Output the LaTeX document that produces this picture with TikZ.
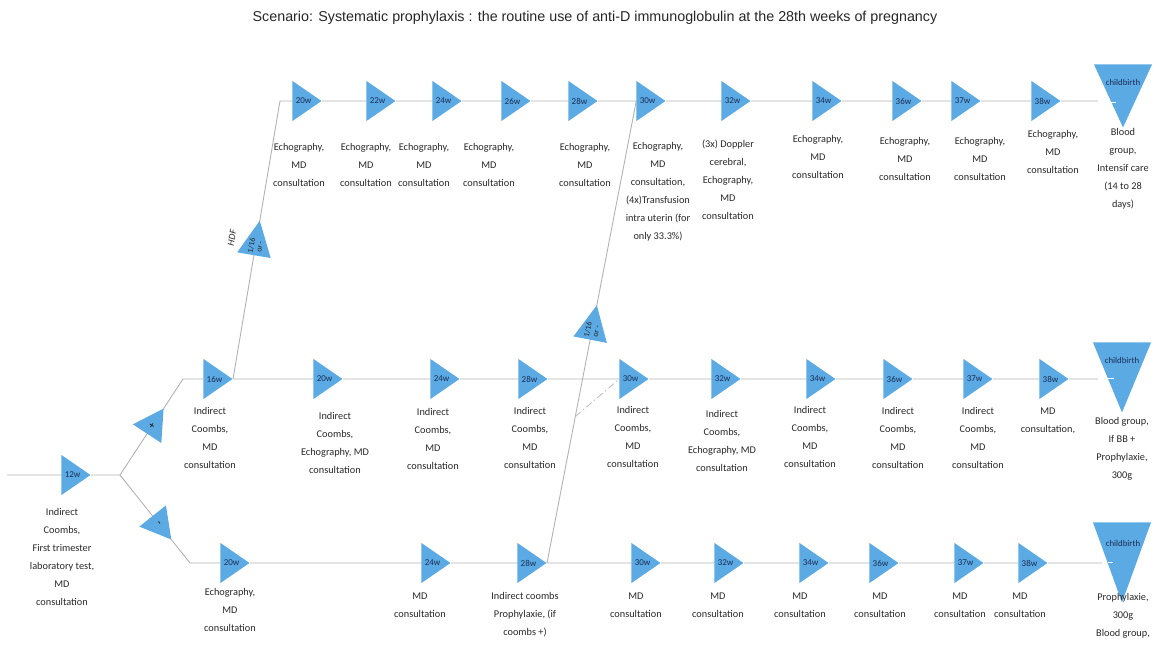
\documentclass[tikz,border=0pt]{standalone}
\usepackage{fontspec}
\setmainfont{Carlito}
\newfontfamily\titlefont{Liberation Sans}
\usetikzlibrary{shapes.geometric,backgrounds,calc}
\definecolor{triblue}{RGB}{92,170,228}
\definecolor{linegray}{RGB}{178,178,178}
\definecolor{textgray}{RGB}{40,40,40}
\definecolor{trilabel}{RGB}{25,45,85}
\begin{document}
\begin{tikzpicture}[x=1pt,y={(0pt,-1pt)},
 tri/.style={isosceles triangle, isosceles triangle stretches, minimum height=29pt, minimum width=40pt, inner sep=0pt, fill=triblue, anchor=apex, font=\fontsize{9}{9}\selectfont, text=trilabel},
 rtri/.style={isosceles triangle, isosceles triangle stretches, minimum height=35pt, minimum width=34pt, inner sep=0pt, fill=triblue, sloped, anchor=center, font=\fontsize{8}{8.5}\selectfont, align=center, text=black!85},
 pmtri/.style={rtri, minimum height=30pt, minimum width=34pt, font=\fontsize{10}{10}\selectfont\bfseries},
 birth/.style={isosceles triangle, isosceles triangle stretches, rotate=-90, inner sep=0pt, fill=triblue, anchor=apex, minimum width=58pt},
 txt/.style={align=center, anchor=north, inner sep=0pt, font=\fontsize{10.3}{18}\selectfont, text=textgray},
 wk/.style={font=\fontsize{8.8}{9}\selectfont, text=trilabel, inner sep=0pt},
 conn/.style={draw=linegray, line width=0.9pt},
 dashdot/.style={draw=linegray!80, line width=0.9pt, dash pattern=on 7pt off 3pt on 1.5pt off 3pt},
 whitedash/.style={draw=white, line width=1pt}
]
\useasboundingbox (0,0) rectangle (1160,652);

\node[font=\titlefont\fontsize{14.3}{16}\selectfont, text=black!85] (title) at (595,18) {Scenario: Systematic prophylaxis : the routine use of anti-D immunoglobulin at the 28th weeks of pregnancy};

% coordinates
\coordinate (s) at (7,475);
\coordinate (j) at (120,475);
\coordinate (c2) at (183,379);
\coordinate (c3) at (190,563);
\coordinate (c1) at (280,101);

% start
\node[tri] (t12) at (91,475) {12w};

% top row
\node[tri] (t20) at (322,101) {20w};
\node[tri] (t22) at (396,101) {22w};
\node[tri] (t24) at (462,101) {24w};
\node[tri] (t26) at (531,101) {26w};
\node[tri] (t28) at (598,101) {28w};
\node[tri] (t30) at (666,101) {30w};
\node[tri] (t32) at (751,101) {32w};
\node[tri] (t34) at (842,101) {34w};
\node[tri] (t36) at (922,101) {36w};
\node[tri] (t37) at (981,101) {37w};
\node[tri] (t38) at (1061,101) {38w};
\node[birth, minimum height=63pt] (cbt) at (1123,128) {};
\node[wk] (cbtl) at (1123,82) {childbirth};

% middle row
\node[tri] (m16) at (233,379) {16w};
\node[tri] (m20) at (343,379) {20w};
\node[tri] (m24) at (460,379) {24w};
\node[tri] (m28) at (548,379) {28w};
\node[tri] (m30) at (649,379) {30w};
\node[tri] (m32) at (741,379) {32w};
\node[tri] (m34) at (836,379) {34w};
\node[tri] (m36) at (913,379) {36w};
\node[tri] (m37) at (993,379) {37w};
\node[tri] (m38) at (1069,379) {38w};
\node[birth, minimum height=70pt] (cbm) at (1122,413) {};
\node[wk] (cbml) at (1122,360) {childbirth};

% bottom row
\node[tri] (b20) at (250,563) {20w};
\node[tri] (b24) at (451,563) {24w};
\node[tri] (b28) at (547,563) {28w};
\node[tri] (b30) at (661,563) {30w};
\node[tri] (b32) at (744,563) {32w};
\node[tri] (b34) at (829,563) {34w};
\node[tri] (b36) at (899,563) {36w};
\node[tri] (b37) at (984,563) {37w};
\node[tri] (b38) at (1048,563) {38w};
\node[birth, minimum height=80pt] (cbb) at (1122,603) {};
\node[wk] (cbbl) at (1123,543) {childbirth};

% texts top
\node[txt] (l20) at (299,143) {Echography,\\MD\\consultation};
\node[txt] (l22) at (366,143) {Echography,\\MD\\consultation};
\node[txt] (l24) at (424,143) {Echography,\\MD\\consultation};
\node[txt] (l26) at (489,143) {Echography,\\MD\\consultation};
\node[txt] (l28) at (585,143) {Echography,\\MD\\consultation};
\node[txt] (l30) at (658,142) {Echography,\\MD\\consultation,\\(4x)Transfusion\\intra uterin (for\\only 33.3\%)};
\node[txt] (l32) at (728,140) {(3x) Doppler\\cerebral,\\Echography,\\MD\\consultation};
\node[txt] (l34) at (818,135) {Echography,\\MD\\consultation};
\node[txt] (l36) at (905,137) {Echography,\\MD\\consultation};
\node[txt] (l37) at (980,137) {Echography,\\MD\\consultation};
\node[txt] (l38) at (1053,130) {Echography,\\MD\\consultation};
\node[txt] (lcbt) at (1123,128) {Blood\\group,\\Intensif care\\(14 to 28\\days)};

% texts middle
\node[txt] (lm16) at (210,407) {Indirect\\Coombs,\\MD\\consultation};
\node[txt] (lm20) at (335,412) {Indirect\\Coombs,\\Echography, MD\\consultation};
\node[txt] (lm24) at (433,408) {Indirect\\Coombs,\\MD\\consultation};
\node[txt] (lm28) at (530,407) {Indirect\\Coombs,\\MD\\consultation};
\node[txt] (lm30) at (633,406) {Indirect\\Coombs,\\MD\\consultation};
\node[txt] (lm32) at (722,410) {Indirect\\Coombs,\\Echography, MD\\consultation};
\node[txt] (lm34) at (810,406) {Indirect\\Coombs,\\MD\\consultation};
\node[txt] (lm36) at (898,407) {Indirect\\Coombs,\\MD\\consultation};
\node[txt] (lm37) at (978,407) {Indirect\\Coombs,\\MD\\consultation};
\node[txt] (lm38) at (1048,408) {MD\\consultation,};
\node[txt] (lcbm) at (1122,417) {Blood group,\\If BB +\\Prophylaxie,\\300g};

% texts bottom
\node[txt] (l12) at (62,508) {Indirect\\Coombs,\\First trimester\\laboratory test,\\MD\\consultation};
\node[txt] (lb20) at (230,588) {Echography,\\MD\\consultation};
\node[txt] (lb24) at (420,593) {MD\\consultation};
\node[txt] (lb28) at (525,592) {Indirect coombs\\Prophylaxie, (if\\coombs +)};
\node[txt] (lb30) at (636,593) {MD\\consultation};
\node[txt] (lb32) at (718,593) {MD\\consultation};
\node[txt] (lb34) at (800,593) {MD\\consultation};
\node[txt] (lb36) at (880,593) {MD\\consultation};
\node[txt] (lb37) at (960,593) {MD\\consultation};
\node[txt] (lb38) at (1020,593) {MD\\consultation};
\node[txt] (lcbb) at (1123,593) {Prophylaxie,\\300g\\Blood group,};

\node[font=\fontsize{9.5}{9.5}\selectfont\itshape, text=black!85, rotate=80.4, inner sep=0pt] (hdf) at (232,238) {HDF};

% connectors
\begin{scope}[on background layer]
\draw[conn] (s) -- (t12) -- (j);
\draw[conn] (j) -- node[pmtri, pos=0.51] (plus) {+} (c2) -- (m16) -- (m20) -- (m24) -- (m28) -- (m30) -- (m32) -- (m34) -- (m36) -- (m37) -- (m38) -- ($(m38.apex -| cbm.apex)+(-24,0)$);
\draw[conn] (j) -- node[pmtri, pos=0.55] (minus) {-} (c3) -- (b20) -- (b24) -- (b28) -- (b30) -- (b32) -- (b34) -- (b36) -- (b37) -- (b38) -- ($(b38.apex -| cbb.apex)+(-20,0)$);
\draw[conn] (m16.apex) -- node[rtri, pos=0.478] (hdft) {1/16\\or -} (c1) -- (t20) -- (t22) -- (t24) -- (t26) -- (t28) -- (t30) -- (t32) -- (t34) -- (t36) -- (t37) -- (t38) -- ($(t38.apex -| cbt.apex)+(-25,0)$);
\draw[conn] (b28.apex) -- coordinate[pos=0.317] (dd) node[rtri, pos=0.503] (midt) {1/16\\or -} (t30.lower side);
\draw[dashdot] (dd) -- (m30.lower side);
\end{scope}

\draw[whitedash] ($(t38.apex -| cbt.apex)+(-13,2)$) -- ++(6,0);
\draw[whitedash] ($(m38.apex -| cbm.apex)+(-22,0)$) -- ++(14,0);
\draw[whitedash] ($(b38.apex -| cbb.apex)+(-14,-1)$) -- ++(5,0);
\end{tikzpicture}
\end{document}
